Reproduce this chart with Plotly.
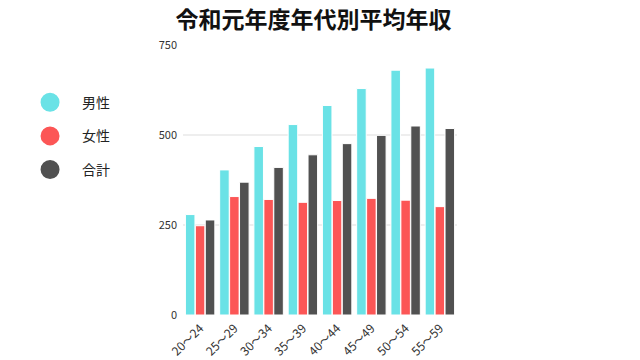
import plotly.graph_objects as go

categories = ["20〜24", "25〜29", "30〜34", "35〜39", "40〜44", "45〜49", "50〜54", "55〜59"]
male = [279, 403, 468, 529, 582, 629, 680, 686]
female = [248, 329, 321, 313, 318, 324, 319, 301]
total = [264, 369, 410, 445, 476, 499, 525, 518]
series_names = ["男性", "女性", "合計"]
colors = ["#6ae2e6", "#fc5656", "#515151"]

fig = go.Figure()
for name, vals, c in zip(series_names, [male, female, total], colors):
    fig.add_trace(go.Bar(x=categories, y=vals, name=name, marker=dict(color=c, line=dict(color="white", width=1)),
                         showlegend=False))
for name, c in zip(series_names, colors):
    fig.add_trace(go.Scatter(x=[None], y=[None], mode="markers", name=name, legendgroup=name,
                             marker=dict(color=c, size=16, symbol="circle", line=dict(color=c, width=3))))

font = "Noto Sans CJK JP"
fig.update_layout(
    template="none",
    width=640, height=360,
    margin=dict(l=183, r=183, t=45, b=45, autoexpand=False),
    paper_bgcolor="white", plot_bgcolor="white",
    font=dict(family=font, color="#222"),
    title=dict(text="<b>令和元年度年代別平均年収</b>", x=0.49, xanchor="center", y=0.945, yanchor="middle",
               font=dict(size=23, color="#111", family=font)),
    barmode="group", bargap=0.13, bargroupgap=0.04,
    legend=dict(x=-0.602, xanchor="left", y=0.846, yanchor="top", traceorder="grouped", tracegroupgap=12.5,
                font=dict(size=14, color="#222", family=font), itemwidth=54, bgcolor="rgba(0,0,0,0)"),
    xaxis=dict(showgrid=False, tickangle=-45, tickfont=dict(size=12, color="#333"), showline=False, ticks="",
               automargin=False, ticklabelstandoff=3),
    yaxis=dict(range=[0, 750], tickvals=[0, 250, 500, 750], showgrid=True, gridcolor="#eeeeee", gridwidth=1.5,
               zeroline=False, tickfont=dict(size=11, color="#333"), ticks="", automargin=False,
               ticklabelstandoff=5),
)
fig.write_html("out.html", config={"displayModeBar": False}, post_script="document.body.style.margin='0px';")
